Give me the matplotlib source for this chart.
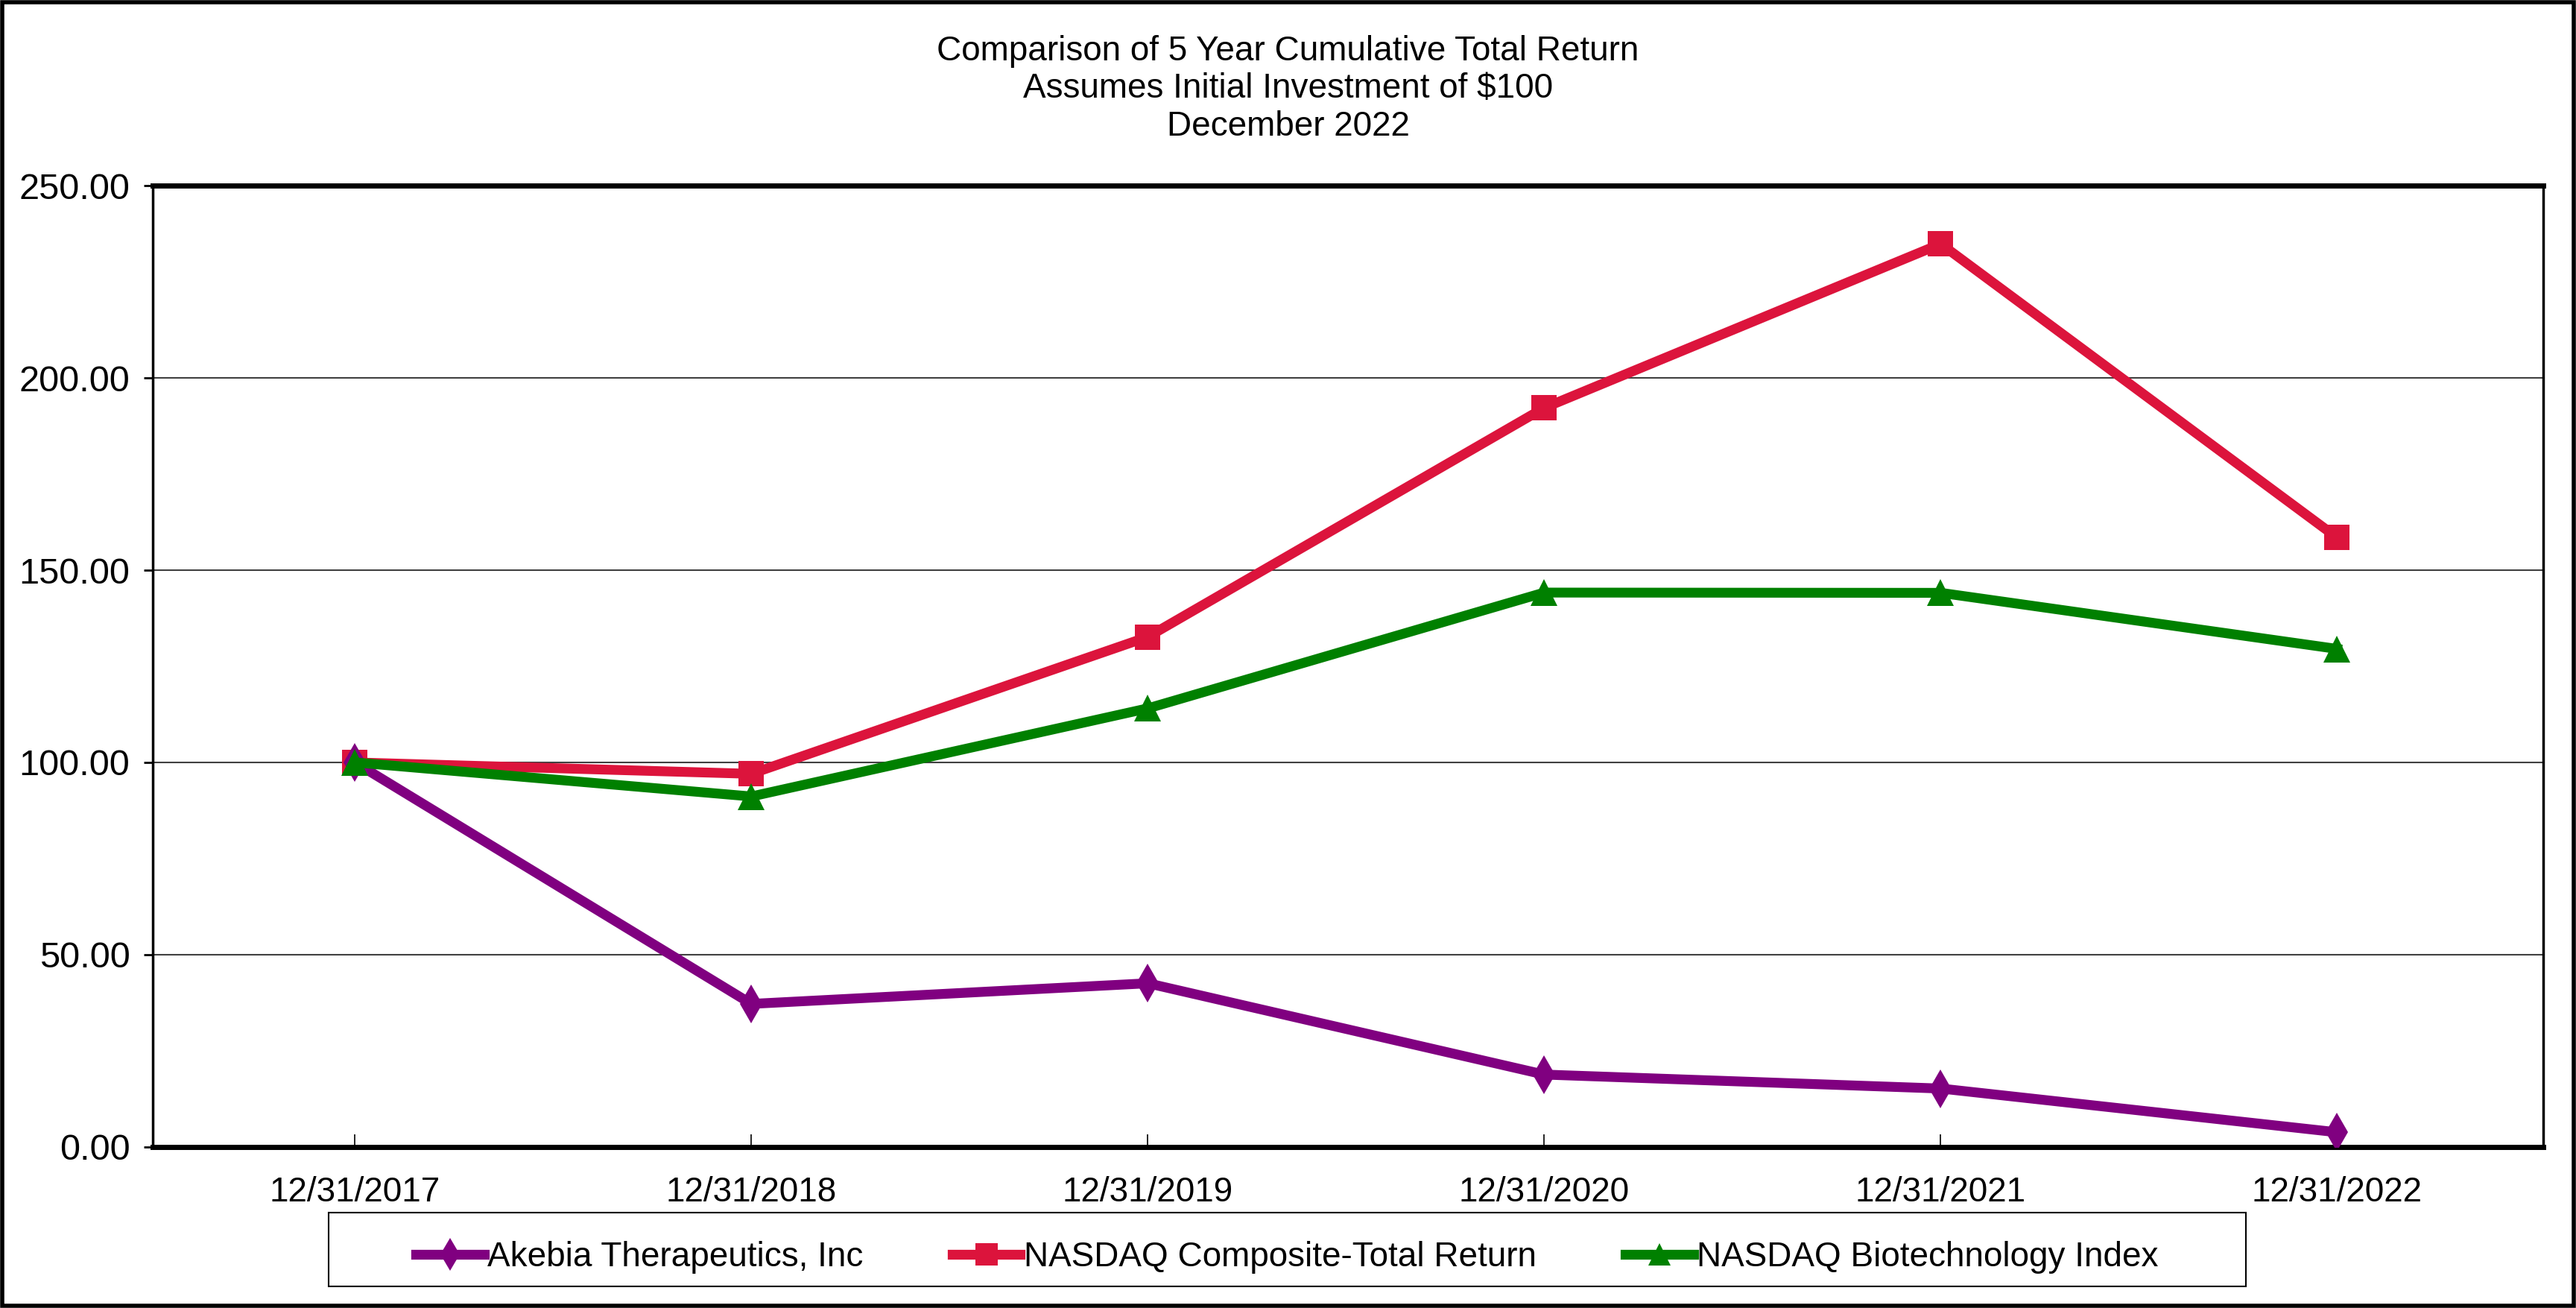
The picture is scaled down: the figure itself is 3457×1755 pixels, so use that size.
import matplotlib
matplotlib.use("Agg")
import matplotlib.pyplot as plt
from matplotlib.patches import Rectangle

plt.rcParams['font.family'] = ['Liberation Sans', 'DejaVu Sans']

dates = ['12/31/2017', '12/31/2018', '12/31/2019', '12/31/2020', '12/31/2021', '12/31/2022']
akebia = [100.00, 37.21, 42.57, 18.83, 15.20, 3.83]
nasdaq_comp = [100.00, 97.04, 132.65, 192.21, 234.84, 158.45]
nasdaq_bio = [100.00, 91.15, 114.06, 144.17, 144.10, 129.52]
series_names = ['Akebia Therapeutics, Inc', 'NASDAQ Composite-Total Return',
                'NASDAQ Biotechnology Index']
title_lines = ['Comparison of 5 Year Cumulative Total Return',
               'Assumes Initial Investment of $100',
               'December 2022']
yticks = [0, 50, 100, 150, 200, 250]

fs = 33

fig = plt.figure(figsize=(34.57, 17.55), dpi=100)
ax = fig.add_axes([0.0593, 0.1231, 0.928, 0.735])

x = range(len(dates))
# zorder设置优先级
l1, = ax.plot(x, akebia, color='#800080', lw=9.5, marker='d', ms=26, mew=0,
              zorder=5, label=series_names[0])
l2, = ax.plot(x, nasdaq_comp, color='#DC143C', lw=9.5, marker='s', ms=25, mew=0,
              zorder=4, label=series_names[1])
l3, = ax.plot(x, nasdaq_bio, color='#008000', lw=9.5, marker='^', ms=26, mew=0,
              zorder=6, label=series_names[2])

ax.set_xlim(-0.51, 5.52)
ax.set_ylim(0, 250)
ax.set_xticks(list(x))
ax.set_xticklabels(dates, fontsize=fs)
ax.set_yticks(yticks)
ax.set_yticklabels(['%.2f' % v for v in yticks], fontsize=35)
ax.tick_params(axis='x', direction='in', length=12, width=1.2, pad=28)
ax.tick_params(axis='y', direction='out', length=9, width=2, pad=13)

# 横向网格
ax.grid(axis='y', color='#404040', lw=1.5, zorder=1)
ax.set_axisbelow(True)
for side in ['top', 'bottom']:
    ax.spines[side].set_linewidth(5)
for side in ['left', 'right']:
    ax.spines[side].set_linewidth(2.5)

for i, t in enumerate(title_lines):
    fig.text(0.5, 0.9608 - i * 0.0288, t, ha='center', va='center', fontsize=fs)

leg = fig.legend(handles=[l1, l2, l3], loc='center', bbox_to_anchor=(0.4997, 0.039),
                 ncol=3, fontsize=fs, frameon=False, handlelength=2.0,
                 handletextpad=0.1, columnspacing=2.6, markerscale=0.85)

# 图例外框和整体外框
fig.patches.append(Rectangle((441 / 3457, 1 - 1726 / 1755), (3014 - 441) / 3457,
                             99 / 1755, transform=fig.transFigure, fill=False,
                             ec='black', lw=1.5))
fig.patches.append(Rectangle((0.0008, 0.0015), 0.9984, 0.997, transform=fig.transFigure,
                             fill=False, ec='black', lw=4))

fig.savefig('out.png', dpi=100)
